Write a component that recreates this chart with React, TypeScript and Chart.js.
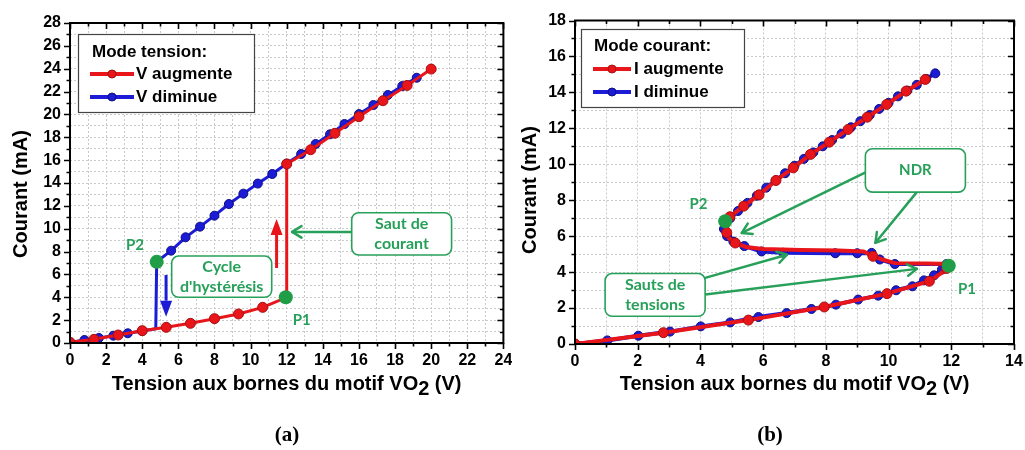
import React, { useEffect, useRef } from 'react';
import { Chart, registerables } from 'chart.js';

Chart.register(...registerables);

// ---------------- (a) Mode tension ----------------
const aRedV = [0, 1.33, 2.67, 4.0, 5.33, 6.67, 8.0, 9.33, 10.67, 12.0, 12.0, 13.33, 14.67, 16.0, 17.33, 18.67, 20.0];
const aRedI = [0.06, 0.32, 0.7, 1.08, 1.37, 1.72, 2.13, 2.54, 3.12, 4.0, 15.66, 16.91, 18.35, 19.8, 21.2, 22.54, 23.97];
const aBlueV = [19.2, 18.4, 17.6, 16.8, 16.0, 15.2, 14.4, 13.6, 12.8, 12.0, 11.2, 10.4, 9.6, 8.8, 8.0, 7.2, 6.4, 5.6, 4.8, 4.75, 4.0, 3.2, 2.4, 1.6, 0.8, 0];
const aBlueI = [23.21, 22.48, 21.7, 20.82, 20.03, 19.16, 18.26, 17.41, 16.54, 15.7, 14.79, 13.95, 13.07, 12.16, 11.14, 10.18, 9.25, 8.08, 7.1, 1.25, 1.05, 0.85, 0.64, 0.44, 0.26, 0.05];
const aBlueUnmarked = [19];
const aXMax = 24;
const aYMax = 28;
const aSeriesLabels = ['V augmente', 'V diminue'];
const aLegendTitle = 'Mode tension:';

// ---------------- (b) Mode courant ----------------
const bRedMarkV = [0, 2.82, 5.53, 7.95, 9.95, 11.3, 11.85, 9.5, 5.11, 4.84, 4.94, 5.38, 5.87, 6.41, 6.96, 7.51, 8.11, 8.71, 9.32, 9.94, 10.56, 11.17];
const bRedMarkI = [0, 0.63, 1.33, 2.06, 2.8, 3.49, 4.2, 4.88, 5.62, 6.2, 7.08, 7.67, 8.3, 9.1, 9.8, 10.55, 11.23, 11.94, 12.62, 13.33, 14.07, 14.72];
const bRedPathV = [0, 2.82, 5.53, 7.95, 9.95, 11.3, 11.9, 11.95, 11.2, 10.2, 9.8, 9.5, 9.2, 8.4, 7.2, 6.0, 5.45, 5.11, 4.9, 4.84, 4.86, 4.94, 5.38, 5.87, 6.41, 6.96, 7.51, 8.11, 8.71, 9.32, 9.94, 10.56, 11.17];
const bRedPathI = [0, 0.63, 1.33, 2.06, 2.8, 3.49, 4.2, 4.45, 4.48, 4.5, 4.7, 4.9, 5.15, 5.2, 5.23, 5.28, 5.4, 5.62, 5.9, 6.2, 6.6, 7.08, 7.67, 8.3, 9.1, 9.8, 10.55, 11.23, 11.94, 12.62, 13.33, 14.07, 14.72];
const bBlueV = [11.49, 11.2, 10.9, 10.6, 10.3, 10.0, 9.7, 9.4, 9.1, 8.8, 8.5, 8.2, 7.9, 7.6, 7.3, 7.0, 6.7, 6.4, 6.1, 5.8, 5.5, 5.2, 4.95, 4.8, 4.75, 4.85, 5.05, 5.4, 5.95, 6.64, 8.3, 9.0, 9.46, 9.72, 10.2, 11.85, 11.7, 11.45, 11.13, 10.76, 10.24, 9.67, 9.03, 8.32, 7.54, 6.75, 5.85, 4.95, 4.01, 3.03, 2.02, 1.03, 0];
const bBlueI = [15.06, 14.75, 14.42, 14.1, 13.78, 13.42, 13.08, 12.74, 12.4, 12.06, 11.7, 11.35, 11.0, 10.66, 10.3, 9.92, 9.5, 9.1, 8.7, 8.25, 7.85, 7.4, 7.0, 6.7, 6.4, 6.0, 5.7, 5.45, 5.15, 5.08, 5.05, 5.05, 5.07, 4.7, 4.45, 4.45, 4.14, 3.82, 3.54, 3.21, 2.99, 2.69, 2.47, 2.19, 1.95, 1.72, 1.5, 1.2, 0.98, 0.69, 0.46, 0.2, 0];
const bXMax = 14;
const bYMax = 18;
const bSeriesLabels = ['I augmente', 'I diminue'];
const bLegendTitle = 'Mode courant:';

// ---------------- styles ----------------
const FONT = '"Liberation Sans", Arial, sans-serif';
const GFONT = 'Lato, "Open Sans", sans-serif';
const RED = '#e8161b';
const RED_DARK = '#a80f10';
const BLUE = '#1c1cd6';
const BLUE_DARK = '#0d0d80';
const GREEN = '#27a05a';
const GREEN_DOT = '#1f9e47';

const pts = (xs: number[], ys: number[]) => xs.map((x, i) => ({ x, y: ys[i] }));

type Arrow = { x1: number; y1: number; x2: number; y2: number; color: string; kind: 'filled' | 'open' };
type Box = { x1: number; y1: number; x2: number; y2: number; lines: string[]; size: number };
type Spec = {
  legend: { box: [number, number, number, number]; title: string; titleX: number; titleY: number; items: { label: string; color: string; dark: string; y: number }[]; lx1: number; lx2: number; tx: number };
  yTitle: { x: number; y: number };
  xTitleBaseline: number;
  panel: { text: string; x: number; y: number };
  dots: [number, number][];
  labels: { t: string; x: number; y: number }[];
  boxes: Box[];
  arrows: Arrow[];
};

function drawArrow(ctx: CanvasRenderingContext2D, a: Arrow, X: (v: number) => number, Y: (v: number) => number) {
  const x1 = X(a.x1), y1 = Y(a.y1), x2 = X(a.x2), y2 = Y(a.y2);
  const ang = Math.atan2(y2 - y1, x2 - x1);
  ctx.save();
  ctx.strokeStyle = a.color;
  ctx.fillStyle = a.color;
  if (a.kind === 'filled') {
    const hl = 16, hw = 6;
    ctx.lineWidth = 3;
    ctx.beginPath();
    ctx.moveTo(x1, y1);
    ctx.lineTo(x2 - hl * Math.cos(ang), y2 - hl * Math.sin(ang));
    ctx.stroke();
    ctx.beginPath();
    ctx.moveTo(x2, y2);
    ctx.lineTo(x2 - hl * Math.cos(ang) + hw * Math.sin(ang), y2 - hl * Math.sin(ang) - hw * Math.cos(ang));
    ctx.lineTo(x2 - hl * Math.cos(ang) - hw * Math.sin(ang), y2 - hl * Math.sin(ang) + hw * Math.cos(ang));
    ctx.closePath();
    ctx.fill();
  } else {
    const hl = 11, spread = 0.55;
    ctx.lineWidth = 2.5;
    ctx.lineCap = 'round';
    ctx.lineJoin = 'round';
    ctx.beginPath();
    ctx.moveTo(x1, y1);
    ctx.lineTo(x2, y2);
    ctx.stroke();
    ctx.beginPath();
    ctx.moveTo(x2 - hl * Math.cos(ang - spread), y2 - hl * Math.sin(ang - spread));
    ctx.lineTo(x2, y2);
    ctx.lineTo(x2 - hl * Math.cos(ang + spread), y2 - hl * Math.sin(ang + spread));
    ctx.stroke();
  }
  ctx.restore();
}

function roundRect(ctx: CanvasRenderingContext2D, x: number, y: number, w: number, h: number, r: number) {
  ctx.beginPath();
  ctx.moveTo(x + r, y);
  ctx.lineTo(x + w - r, y);
  ctx.arcTo(x + w, y, x + w, y + r, r);
  ctx.lineTo(x + w, y + h - r);
  ctx.arcTo(x + w, y + h, x + w - r, y + h, r);
  ctx.lineTo(x + r, y + h);
  ctx.arcTo(x, y + h, x, y + h - r, r);
  ctx.lineTo(x, y + r);
  ctx.arcTo(x, y, x + r, y, r);
  ctx.closePath();
}

function makeDeco(spec: Spec) {
  return {
    id: 'deco',
    afterDatasetsDraw(chart: any) {
      const ctx: CanvasRenderingContext2D = chart.ctx;
      const xs = chart.scales.x, ys = chart.scales.y;
      const X = (v: number) => xs.getPixelForValue(v);
      const Y = (v: number) => ys.getPixelForValue(v);
      const ca = chart.chartArea;
      ctx.save();

      spec.arrows.forEach((a) => drawArrow(ctx, a, X, Y));

      spec.boxes.forEach((b) => {
        const x = X(b.x1), y = Y(b.y1), w = X(b.x2) - x, h = Y(b.y2) - y;
        roundRect(ctx, x, y, w, h, 7);
        ctx.fillStyle = '#fff';
        ctx.fill();
        ctx.strokeStyle = GREEN;
        ctx.lineWidth = 1.6;
        ctx.stroke();
        ctx.fillStyle = GREEN;
        ctx.font = `bold ${b.size}px ${GFONT}`;
        ctx.textAlign = 'center';
        ctx.textBaseline = 'middle';
        const cx = x + w / 2, cy = y + h / 2;
        const lh = 19.5;
        b.lines.forEach((t, i) => {
          ctx.fillText(t, cx, cy + (i - (b.lines.length - 1) / 2) * lh);
        });
      });

      spec.dots.forEach(([dx, dy]) => {
        ctx.beginPath();
        ctx.arc(X(dx), Y(dy), 7, 0, Math.PI * 2);
        ctx.fillStyle = GREEN_DOT;
        ctx.fill();
      });

      ctx.fillStyle = GREEN;
      ctx.font = `bold 15px ${GFONT}`;
      ctx.textAlign = 'center';
      ctx.textBaseline = 'middle';
      spec.labels.forEach((l) => ctx.fillText(l.t, X(l.x), Y(l.y)));

      ctx.strokeStyle = '#000';
      ctx.lineWidth = 2;
      ctx.strokeRect(ca.left, ca.top, ca.right - ca.left, ca.bottom - ca.top);

      ctx.lineWidth = 1.6;
      ctx.beginPath();
      for (let v = xs.min; v <= xs.max + 1e-9; v += 1) {
        const px = Math.round(X(v)) + 0.5;
        const len = v % 2 === 0 ? 6 : 3.5;
        ctx.moveTo(px, ca.bottom);
        ctx.lineTo(px, ca.bottom + len);
        ctx.moveTo(px, ca.top);
        ctx.lineTo(px, ca.top + len);
      }
      for (let v = ys.min; v <= ys.max + 1e-9; v += 1) {
        const py = Math.round(Y(v)) + 0.5;
        const len = v % 2 === 0 ? 6 : 3.5;
        ctx.moveTo(ca.left - len, py);
        ctx.lineTo(ca.left, py);
        ctx.moveTo(ca.right, py);
        ctx.lineTo(ca.right - len, py);
      }
      ctx.stroke();

      const L = spec.legend;
      const [bx1, by1, bx2, by2] = L.box;
      ctx.fillStyle = '#fff';
      ctx.fillRect(bx1, by1, bx2 - bx1, by2 - by1);
      ctx.strokeStyle = '#444';
      ctx.lineWidth = 1.2;
      ctx.strokeRect(bx1 + 0.5, by1 + 0.5, bx2 - bx1, by2 - by1);
      ctx.fillStyle = '#000';
      ctx.font = `bold 17px ${FONT}`;
      ctx.textAlign = 'left';
      ctx.textBaseline = 'middle';
      ctx.fillText(L.title, L.titleX, L.titleY);
      L.items.forEach((it) => {
        ctx.strokeStyle = it.color;
        ctx.lineWidth = 4;
        ctx.beginPath();
        ctx.moveTo(L.lx1, it.y);
        ctx.lineTo(L.lx2, it.y);
        ctx.stroke();
        ctx.beginPath();
        ctx.arc((L.lx1 + L.lx2) / 2, it.y, 4, 0, Math.PI * 2);
        ctx.fillStyle = it.color;
        ctx.fill();
        ctx.strokeStyle = it.dark;
        ctx.lineWidth = 1;
        ctx.stroke();
        ctx.fillStyle = '#000';
        ctx.fillText(it.label, L.tx, it.y);
      });

      ctx.fillStyle = '#000';
      ctx.save();
      ctx.translate(spec.yTitle.x, spec.yTitle.y);
      ctx.rotate(-Math.PI / 2);
      ctx.font = `bold 20px ${FONT}`;
      ctx.textAlign = 'center';
      ctx.textBaseline = 'middle';
      ctx.fillText('Courant (mA)', 0, 0);
      ctx.restore();

      ctx.font = `bold 20px ${FONT}`;
      ctx.textAlign = 'left';
      ctx.textBaseline = 'alphabetic';
      const t1 = 'Tension aux bornes du motif VO', t2 = '2', t3 = ' (V)';
      const w1 = ctx.measureText(t1).width, w2 = ctx.measureText(t2).width, w3 = ctx.measureText(t3).width;
      let tx = (ca.left + ca.right) / 2 - (w1 + w2 + w3) / 2;
      const base = spec.xTitleBaseline;
      ctx.fillText(t1, tx, base);
      tx += w1;
      ctx.fillText(t2, tx, base + 5);
      tx += w2;
      ctx.fillText(t3, tx, base);

      ctx.font = `bold 21px "Liberation Serif", "Times New Roman", serif`;
      ctx.textAlign = 'center';
      ctx.textBaseline = 'middle';
      ctx.fillText(spec.panel.text, spec.panel.x, spec.panel.y);

      ctx.restore();
    },
  };
}

function axis(max: number, isX: boolean, size: number) {
  return {
    type: 'linear',
    min: 0,
    max,
    ticks: {
      stepSize: 1,
      autoSkip: false,
      maxRotation: 0,
      padding: isX ? 8 : 9,
      color: '#000',
      font: { family: FONT, size: 16, weight: 'bold' },
      callback: (v: number) => (Math.round(v) % 2 === 0 ? String(Math.round(v)) : ''),
    },
    grid: { color: '#c9c9c9', lineWidth: 1, drawTicks: false },
    border: { display: false, dash: [2, 2] },
    afterFit: (s: any) => {
      if (isX) s.height = size;
      else s.width = size;
      s.paddingLeft = 0;
      s.paddingRight = 0;
      s.paddingTop = 0;
      s.paddingBottom = 0;
    },
  };
}

function baseOptions(xMax: number, yMax: number, pad: any, yW: number, xH: number) {
  return {
    responsive: false,
    maintainAspectRatio: false,
    animation: false,
    devicePixelRatio: 1,
    layout: { padding: pad },
    plugins: { legend: { display: false }, tooltip: { enabled: false } },
    scales: { x: axis(xMax, true, xH), y: axis(yMax, false, yW) },
  };
}

const specA: Spec = {
  legend: {
    box: [78, 34, 254, 112],
    title: aLegendTitle,
    titleX: 92,
    titleY: 52,
    items: [
      { label: aSeriesLabels[0], color: RED, dark: RED_DARK, y: 74 },
      { label: aSeriesLabels[1], color: BLUE, dark: BLUE_DARK, y: 97 },
    ],
    lx1: 90,
    lx2: 134,
    tx: 136,
  },
  yTitle: { x: 21, y: 194 },
  xTitleBaseline: 390,
  panel: { text: '(a)', x: 287, y: 436 },
  dots: [[11.95, 4.0], [4.8, 7.1]],
  labels: [{ t: 'P2', x: 3.6, y: 8.6 }, { t: 'P1', x: 12.83, y: 2.0 }],
  boxes: [
    { x1: 5.63, y1: 7.61, x2: 11.17, y2: 4.0, lines: ['Cycle', "d'hystérésis"], size: 16 },
    { x1: 15.6, y1: 11.4, x2: 21.13, y2: 7.7, lines: ['Saut de', 'courant'], size: 16 },
  ],
  arrows: [
    { x1: 11.44, y1: 6.56, x2: 11.44, y2: 10.85, color: RED, kind: 'filled' },
    { x1: 5.32, y1: 5.95, x2: 5.32, y2: 2.3, color: BLUE, kind: 'filled' },
    { x1: 15.6, y1: 9.72, x2: 12.3, y2: 9.72, color: GREEN, kind: 'open' },
  ],
};

const specB: Spec = {
  legend: {
    box: [69, 29, 232, 107],
    title: bLegendTitle,
    titleX: 82,
    titleY: 46,
    items: [
      { label: bSeriesLabels[0], color: RED, dark: RED_DARK, y: 69 },
      { label: bSeriesLabels[1], color: BLUE, dark: BLUE_DARK, y: 92 },
    ],
    lx1: 81,
    lx2: 119,
    tx: 122,
  },
  yTitle: { x: 18, y: 190 },
  xTitleBaseline: 390,
  panel: { text: '(b)', x: 258, y: 436 },
  dots: [[11.92, 4.35], [4.79, 6.83]],
  labels: [{ t: 'P2', x: 3.94, y: 7.76 }, { t: 'P1', x: 12.5, y: 3.03 }],
  boxes: [
    { x1: 9.26, y1: 10.86, x2: 12.45, y2: 8.45, lines: ['NDR'], size: 15 },
    { x1: 0.96, y1: 3.92, x2: 4.15, y2: 1.54, lines: ['Sauts de', 'tensions'], size: 16 },
  ],
  arrows: [
    { x1: 9.25, y1: 9.54, x2: 5.32, y2: 6.18, color: GREEN, kind: 'open' },
    { x1: 10.9, y1: 8.45, x2: 9.58, y2: 5.63, color: GREEN, kind: 'open' },
    { x1: 4.15, y1: 3.68, x2: 6.76, y2: 4.97, color: GREEN, kind: 'open' },
    { x1: 4.15, y1: 2.75, x2: 10.9, y2: 4.18, color: GREEN, kind: 'open' },
  ],
};

function configA(): any {
  return {
    type: 'scatter',
    data: {
      datasets: [
        {
          label: aSeriesLabels[0],
          data: pts(aRedV, aRedI),
          showLine: true,
          borderColor: RED,
          backgroundColor: RED,
          borderWidth: 3,
          pointRadius: 5,
          pointBorderColor: RED_DARK,
          pointBorderWidth: 1,
          order: 1,
        },
        {
          label: aSeriesLabels[1],
          data: pts(aBlueV, aBlueI),
          showLine: true,
          borderColor: BLUE,
          backgroundColor: BLUE,
          borderWidth: 3,
          pointRadius: (c: any) => (aBlueUnmarked.includes(c.dataIndex) ? 0 : 4.5),
          pointBorderColor: BLUE_DARK,
          pointBorderWidth: 1,
          order: 2,
        },
      ],
    },
    options: baseOptions(aXMax, aYMax, { left: 0, right: 8.6, top: 23, bottom: 0 }, 70, 107),
    plugins: [makeDeco(specA)],
  };
}

function configB(): any {
  return {
    type: 'scatter',
    data: {
      datasets: [
        {
          label: bSeriesLabels[0],
          data: pts(bRedMarkV, bRedMarkI),
          showLine: false,
          borderColor: RED_DARK,
          backgroundColor: RED,
          pointRadius: 5,
          pointBorderColor: RED_DARK,
          pointBorderWidth: 1,
          order: 1,
        },
        {
          label: bSeriesLabels[0] + ' (trace)',
          data: pts(bRedPathV, bRedPathI),
          showLine: true,
          borderColor: RED,
          backgroundColor: RED,
          borderWidth: 4,
          pointRadius: 0,
          order: 2,
        },
        {
          label: bSeriesLabels[1],
          data: pts(bBlueV, bBlueI),
          showLine: true,
          borderColor: BLUE,
          backgroundColor: BLUE,
          borderWidth: 4,
          pointRadius: 4.5,
          pointBorderColor: BLUE_DARK,
          pointBorderWidth: 1,
          order: 3,
        },
      ],
    },
    options: baseOptions(bXMax, bYMax, { left: 0, right: 11, top: 20.5, bottom: 0 }, 63, 106),
    plugins: [makeDeco(specB)],
  };
}

export default function App() {
  const refA = useRef<HTMLCanvasElement>(null);
  const refB = useRef<HTMLCanvasElement>(null);
  useEffect(() => {
    const a = new Chart(refA.current as HTMLCanvasElement, configA());
    const b = new Chart(refB.current as HTMLCanvasElement, configB());
    return () => {
      a.destroy();
      b.destroy();
    };
  }, []);
  return (
    <div style={{ position: 'fixed', left: 0, top: 0, width: 1025, height: 450, background: '#fff' }}>
      <canvas ref={refA} width={512} height={450} style={{ position: 'absolute', left: 0, top: 0, width: 512, height: 450 }} />
      <canvas ref={refB} width={513} height={450} style={{ position: 'absolute', left: 512, top: 0, width: 513, height: 450 }} />
    </div>
  );
}
